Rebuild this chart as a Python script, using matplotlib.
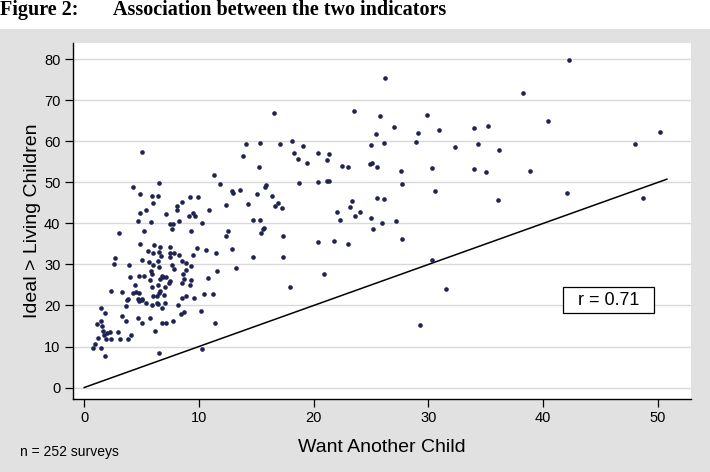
import matplotlib
matplotlib.use("Agg")
from matplotlib import pyplot as plt
from matplotlib.patches import Rectangle

# data (x = want another child, y = ideal > living children)
want = [5.0, 11.3, 11.8, 6.5, 4.25, 4.86, 5.9, 6.4, 9.2, 9.9,
        6.0, 8.5, 8.1, 8.05, 5.35, 4.86, 9.5, 10.9, 12.4, 9.1,
        9.7, 7.1, 8.25, 4.7, 5.85, 7.5, 7.7, 10.25, 7.65, 5.2,
        9.3, 12.5, 12.4, 3.0, 4.9, 6.1, 6.6, 7.5, 9.8, 10.6,
        5.6, 5.96, 6.5, 7.5, 7.8, 6.7, 7.5, 8.3, 9.5, 11.5,
        2.7, 2.6, 5.0, 5.65, 6.4, 8.5, 8.9, 9.3, 3.9, 5.96,
        6.5, 7.65, 7.8, 8.9, 5.85, 11.6, 8.65, 4.0, 4.75, 5.2,
        5.9, 6.75, 6.6, 6.9, 7.15, 8.7, 9.3, 10.8, 4.4, 5.7,
        6.45, 7.35, 7.5, 8.5, 9.2, 5.9, 7.05, 2.35, 3.25, 4.25,
        4.5, 4.75, 6.5, 6.6, 6.0, 6.35, 6.97, 3.8, 3.7, 4.7,
        4.8, 5.0, 5.06, 8.5, 8.85, 9.6, 10.4, 11.2, 5.4, 5.9,
        6.3, 6.4, 7.0, 3.6, 6.8, 8.2, 1.5, 1.85, 10.2, 8.7,
        8.4, 3.3, 4.7, 5.7, 3.6, 1.5, 1.07, 5.06, 6.8, 7.1,
        7.7, 11.4, 1.56, 1.65, 2.26, 1.97, 1.7, 2.9, 6.2, 4.05,
        1.2, 1.88, 2.3, 3.1, 3.85, 0.98, 0.78, 1.5, 1.8, 6.5,
        10.3,
        12.85, 13.0, 13.57, 15.86, 15.8, 15.1, 16.4, 16.9, 16.6, 17.2,
        18.75, 20.4, 21.15, 21.3, 14.26, 14.7, 15.36, 15.7, 15.57, 15.45,
        17.3, 22.0, 22.3, 20.4, 21.8, 23.0, 12.9, 14.7, 17.3, 13.2,
        20.9, 17.9,
        16.55, 13.8, 14.1, 15.3, 15.25, 17.1, 18.1, 18.25, 19.1, 18.6,
        19.4, 20.4, 21.3, 21.15, 22.5, 23.0,
        26.2, 23.5, 25.75, 29.9, 27.0, 25.4, 29.1, 30.96, 34.0, 35.2,
        25.0, 26.1, 28.9, 32.3, 34.3, 36.2, 24.9, 25.1, 25.5, 27.6,
        30.3, 34.0, 35.0,
        27.7, 30.6, 36.1, 23.35, 25.5, 26.1, 23.2, 24.0, 23.6, 24.97,
        26.0, 27.2, 25.2, 27.7, 30.35, 31.5,
        42.3, 38.25, 40.45, 50.2, 48.0, 38.9, 42.1, 48.7, 29.3]
ideal = [57.4, 51.8, 49.5, 49.9, 48.9, 47.1, 46.7, 46.7, 46.5, 46.4,
         44.9, 45.3, 44.3, 43.3, 43.3, 42.6, 42.6, 43.3, 44.4, 41.8,
         41.7, 42.2, 40.7, 40.5, 40.3, 39.9, 39.9, 40.0, 38.7, 38.2,
         38.2, 38.2, 36.9, 37.6, 35.0, 34.8, 34.3, 34.3, 33.9, 33.6,
         33.4, 32.7, 33.0, 32.9, 32.9, 32.0, 31.8, 32.3, 32.3, 32.8,
         31.5, 30.1, 31.1, 30.6, 30.9, 30.8, 30.3, 29.6, 29.8, 29.8,
         29.5, 29.8, 28.8, 28.7, 28.5, 28.5, 27.7, 26.9, 27.3, 27.3,
         27.6, 27.1, 26.5, 27.0, 26.9, 26.5, 26.3, 26.6, 25.0, 26.1,
         25.1, 25.6, 26.0, 25.5, 24.9, 24.4, 24.4, 23.6, 23.2, 23.0,
         23.4, 23.1, 23.1, 23.6, 22.2, 22.2, 22.5, 21.5, 21.4, 21.7,
         21.2, 21.5, 21.4, 21.8, 22.3, 21.9, 22.7, 22.9, 20.5, 20.0,
         20.6, 20.4, 20.5, 19.9, 19.5, 20.0, 19.4, 18.1, 18.6, 18.3,
         17.9, 17.5, 16.9, 17.0, 16.2, 16.1, 15.6, 15.8, 15.8, 15.7,
         16.2, 15.8, 14.9, 13.9, 13.6, 13.3, 12.9, 13.6, 13.9, 12.9,
         12.1, 11.8, 11.8, 11.9, 11.8, 10.7, 9.6, 9.6, 7.8, 8.5,
         9.4,
         48.0, 47.4, 48.1, 49.4, 48.8, 47.2, 46.6, 44.9, 44.2, 43.8,
         49.9, 50.2, 50.4, 50.4, 44.7, 40.9, 40.9, 39.0, 38.7, 37.7,
         37.0, 42.8, 40.9, 35.6, 35.8, 35.0, 33.8, 31.9, 31.8, 29.2,
         27.6, 24.5,
         66.9, 56.5, 59.3, 59.5, 53.8, 59.4, 60.0, 57.3, 58.8, 55.8,
         54.7, 57.3, 56.9, 55.5, 53.9, 53.7,
         75.5, 67.3, 66.2, 66.5, 63.4, 61.8, 62.0, 62.9, 63.3, 63.8,
         59.2, 59.6, 59.8, 58.7, 59.3, 58.0, 54.5, 54.7, 53.7, 52.7,
         53.5, 53.2, 52.6,
         49.5, 47.8, 45.6, 45.4, 46.2, 46.0, 43.9, 42.9, 41.7, 41.4,
         40.2, 40.5, 38.7, 36.1, 31.1, 24.1,
         79.8, 71.8, 65.1, 62.2, 59.3, 52.9, 47.5, 46.2, 15.2]

line_x = [0, 50.8]
xticks = [0, 10, 20, 30, 40, 50]
yticks = [0, 10, 20, 30, 40, 50, 60, 70, 80]
r_text = "r = 0.71"

W, H = 710, 472
fig = plt.figure(figsize=(W / 100, H / 100), dpi=100)
plt.rcParams['font.family'] = ['Liberation Sans', 'DejaVu Sans']

# stata grey background below the title
fig.patches.append(Rectangle((0, 0), 1, (H - 29) / H, transform=fig.transFigure,
                             facecolor='#e1e1e1', edgecolor='none', zorder=-5))

fig.text(0, 1 - 15 / H, "Figure 2:", family='Liberation Serif', weight='bold',
         fontsize=14.5, va='baseline', ha='left')
fig.text(113 / W, 1 - 15 / H, "Association between the two indicators",
         family='Liberation Serif', weight='bold', fontsize=14.5, va='baseline', ha='left')

l, r, t, b = 73, 691, 43, 399
ax = fig.add_axes([l / W, (H - b) / H, (r - l) / W, (b - t) / H])
ax.set_facecolor('white')
ax.set_zorder(2)

ax.scatter(want, ideal, s=11, color='#1f2352', linewidths=0, zorder=3)
ax.plot(line_x, line_x, color='black', lw=1.1, zorder=2)

ax.set_xlim(-0.98, 52.9)
ax.set_ylim(-2.8, 84.0)
ax.set_xticks(xticks)
ax.set_yticks(yticks)
ax.yaxis.grid(True, color='#d9d9d9', lw=1.0)
ax.set_axisbelow(True)
for s in ['top', 'right']:
    ax.spines[s].set_visible(False)
for s in ['left', 'bottom']:
    ax.spines[s].set_linewidth(1.0)
ax.tick_params(direction='out', length=6, width=0.9, labelsize=10.5, pad=3)

ax.set_xlabel("Want Another Child", fontsize=14, labelpad=10)
ax.set_ylabel("Ideal > Living Children", fontsize=14, labelpad=2)

# r box
ax.add_patch(Rectangle((41.75, 18.1), 7.9, 6.5, facecolor='white', edgecolor='black',
                       lw=0.9, zorder=4))
ax.text(45.7, 21.3, r_text, fontsize=13, ha='center', va='center', zorder=5)

fig.text(20 / W, 1 - 456 / H, "n = 252 surveys", fontsize=10, va='baseline', ha='left')

fig.savefig("out.png", dpi=100)
